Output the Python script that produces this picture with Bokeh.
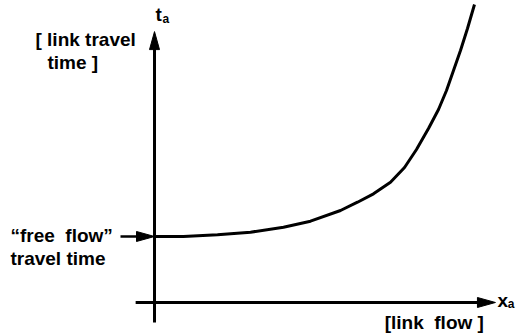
from bokeh.plotting import figure
from bokeh.models import Range1d
from bokeh.core.properties import value
from bokeh.embed import file_html
from bokeh.resources import INLINE

# curve data: link flow x_a vs link travel time t_a (arbitrary units)
flow = [0.0, 0.845, 1.837, 2.799, 3.761, 4.548, 5.423, 5.918, 6.385, 6.880,
        7.289, 7.638, 7.988, 8.280, 8.513, 8.717, 8.921, 9.125, 9.329]
travel_time = [2.2, 2.2, 2.257, 2.343, 2.51, 2.71, 3.067, 3.343, 3.623, 4.01,
               4.5, 5.1, 5.8, 6.433, 7.067, 7.733, 8.4, 9.133, 9.933]
free_flow_time = 2.2

x_axis_span = [-0.55, 9.94]
y_axis_span = [-0.67, 9.03]

PX_X = 34.3  # pixels per x unit
PX_Y = 30.0  # pixels per y unit

W, H = 523, 334
p = figure(width=W, height=H, output_backend="svg", toolbar_location=None,
           x_range=Range1d(-4.490, 10.758), y_range=Range1d(-1.067, 10.067),
           min_border=0)
p.axis.visible = False
p.grid.visible = False
p.outline_line_color = None
p.background_fill_color = "white"
p.border_fill_color = "white"

K = "black"
HEAD_LEN = 18
HEAD_W = 10

# horizontal axis
hx0, hx1 = x_axis_span
hl = HEAD_LEN / PX_X
p.line([hx0, hx1 - hl * 0.6], [0, 0], line_color=K, line_width=3)
p.patch([hx1 - hl, hx1, hx1 - hl], [HEAD_W / 2 / PX_Y, 0, -HEAD_W / 2 / PX_Y], color=K)

# vertical axis
vy0, vy1 = y_axis_span
vl = HEAD_LEN / PX_Y
p.line([0, 0], [vy0, vy1 - vl * 0.6], line_color=K, line_width=3)
p.patch([-HEAD_W / 2 / PX_X, 0, HEAD_W / 2 / PX_X], [vy1 - vl, vy1, vy1 - vl], color=K)

# curve
p.line(flow, travel_time, line_color=K, line_width=3, line_join="round")

# free flow arrow
ax0 = -34 / PX_X
al = 18 / PX_X
p.line([ax0, -al * 0.6], [free_flow_time, free_flow_time], line_color=K, line_width=2.5)
p.patch([-al, 0, -al], [free_flow_time + 5 / PX_Y, free_flow_time, free_flow_time - 5 / PX_Y], color=K)

FONT = value("Liberation Sans")
common = dict(text_font=FONT, text_font_style="bold", text_color=K,
              text_baseline="middle", text_align="left")
FS = "19px"

p.text(x=[-3.47], y=[8.77], text=["[ link travel"], text_font_size=FS, **common)
p.text(x=[-3.12], y=[8.0], text=["time ]"], text_font_size=FS, **common)
p.text(x=[-4.20], y=[2.23], text=["“free\u00a0\u00a0flow”"], text_font_size=FS, **common)
p.text(x=[-4.20], y=[1.47], text=["travel time"], text_font_size=FS, **common)
p.text(x=[6.71], y=[-0.67], text=["[link\u00a0\u00a0flow\u00a0]"], text_font_size=FS, **common)

# axis symbols with subscripts
p.text(x=[10.0], y=[0.05], text=["x"], text_font_size=FS, **common)
p.text(x=[10.3], y=[-0.05], text=["a"], text_font_size="12px", **common)
p.text(x=[0.03], y=[9.6], text=["t"], text_font_size=FS, **common)
p.text(x=[0.23], y=[9.45], text=["a"], text_font_size="12px", **common)

open("out.html", "w").write(file_html(p, INLINE))
